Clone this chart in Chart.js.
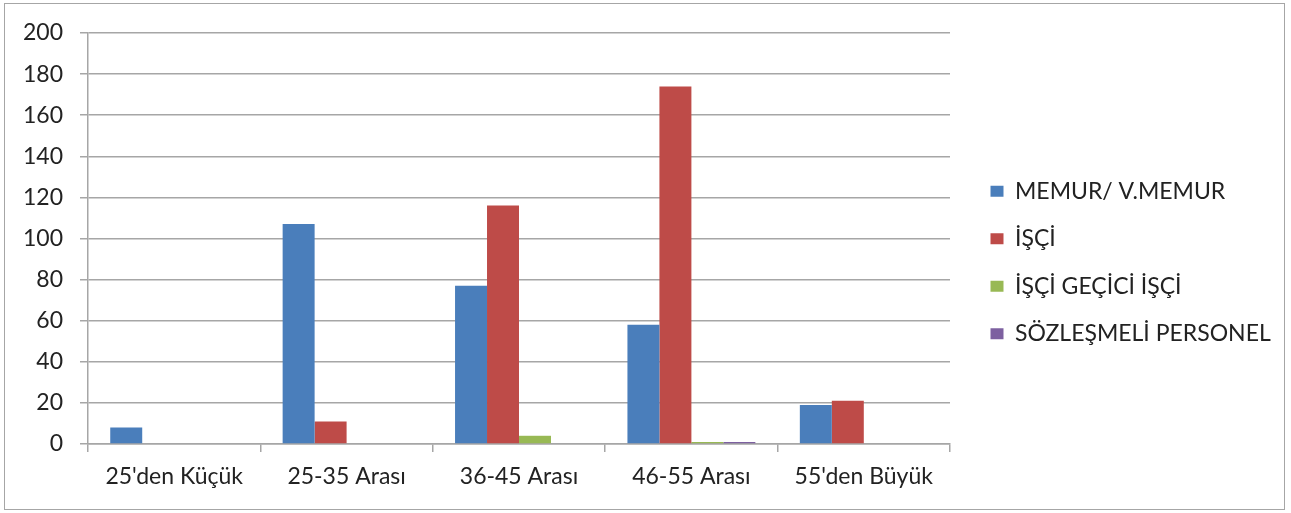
<!DOCTYPE html>
<html>
<head>
<meta charset="utf-8">
<script src="https://cdn.jsdelivr.net/npm/chart.js@4"></script>
<style>
    html, body { margin: 0; padding: 0; background: #fff; }
    #wrap { position: relative; width: 1291px; height: 513px; }
    #frame {
        position: absolute; left: 4px; top: 3px; width: 1279px; height: 505px;
        border: 1.5px solid #a6a6a6; pointer-events: none;
    }
</style>
</head>
<body>
<div id="wrap">
    <canvas id="age-chart" width="1291" height="513"></canvas>
    <div id="frame"></div>
</div>
<script>
// Chart data
const categories = ["25'den Küçük", '25-35 Arası', '36-45 Arası', '46-55 Arası', "55'den Büyük"];
const seriesNames = ['MEMUR/ V.MEMUR', 'İŞÇİ', 'İŞÇİ GEÇİCİ İŞÇİ', 'SÖZLEŞMELİ PERSONEL'];
const memurValues = [8, 107, 77, 58, 19];
const isciValues = [0, 11, 116, 174, 21];
const geciciValues = [0, 0, 4, 1, 0];
const sozlesmeliValues = [0, 0, 0, 1, 0];
const yTicks = [0, 20, 40, 60, 80, 100, 120, 140, 160, 180, 200];

const seriesColors = ['#4A7EBB', '#BE4B48', '#98B954', '#7D60A0'];
const gridColor = '#a6a6a6';
const textColor = '#222';
const fontFamily = 'Lato, "Open Sans", sans-serif';

// Fixed legend width, nudged to sit like the original
const legendShift = {
    id: 'legendShift',
    beforeInit(chart) {
        const legend = chart.legend;
        if (!legend) return;
        const origFit = legend.fit.bind(legend);
        legend.fit = function() {
            origFit();
            this.width = 341;
        };
    },
    afterLayout(chart) {
        if (chart.legend) {
            chart.legend.left = chart.chartArea.right + 16;
            chart.legend.top -= 21;
        }
    }
};

const ctx = document.getElementById('age-chart');
new Chart(ctx, {
    type: 'bar',
    data: {
        labels: categories,
        datasets: [memurValues, isciValues, geciciValues, sozlesmeliValues].map((vals, i) => ({
            label: seriesNames[i],
            data: vals,
            backgroundColor: seriesColors[i],
            borderWidth: 0,
            barPercentage: 1,
            categoryPercentage: 0.742
        }))
    },
    options: {
        responsive: false,
        animation: false,
        devicePixelRatio: 1,
        layout: { padding: { top: 33, left: 0, right: 0, bottom: 0 } },
        plugins: {
            legend: {
                position: 'right',
                labels: {
                    boxWidth: 13,
                    boxHeight: 11,
                    padding: 24.5,
                    color: textColor,
                    font: { family: fontFamily, size: 23 }
                }
            },
            tooltip: { enabled: false }
        },
        scales: {
            x: {
                afterFit(scale) { scale.height = 69; },
                grid: {
                    drawOnChartArea: false,
                    offset: true,
                    color: gridColor,
                    lineWidth: 1.5,
                    tickLength: 8
                },
                border: { color: gridColor, width: 1.5 },
                ticks: {
                    color: textColor,
                    padding: 11,
                    font: { family: fontFamily, size: 23 }
                }
            },
            y: {
                min: 0,
                max: 200,
                afterFit(scale) { scale.width = 88; },
                afterBuildTicks(scale) {
                    scale.ticks = yTicks.map(v => ({ value: v }));
                },
                grid: {
                    color: gridColor,
                    lineWidth: 1.5,
                    tickLength: 8
                },
                border: { color: gridColor, width: 1.5 },
                ticks: {
                    color: textColor,
                    padding: 17,
                    font: { family: fontFamily, size: 23 }
                }
            }
        }
    },
    plugins: [legendShift]
});
</script>
</body>
</html>
